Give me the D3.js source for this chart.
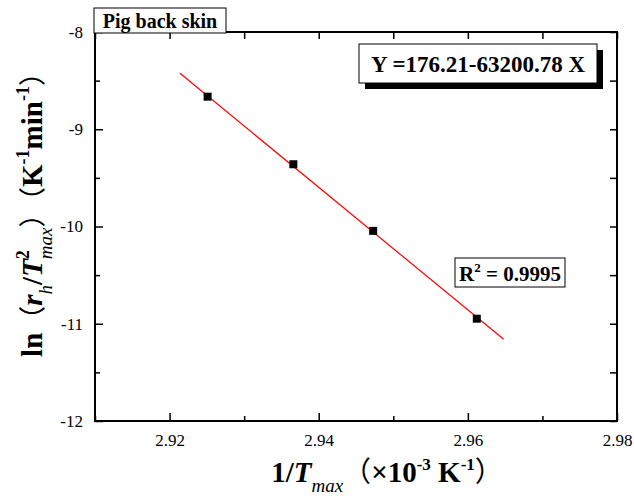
<!DOCTYPE html>
<html>
<head>
<meta charset="utf-8">
<script src="https://cdn.jsdelivr.net/npm/d3@7"></script>
<style>
  body { margin: 0; background: #fff; }
</style>
</head>
<body>
<div id="chart"></div>
<script>
// measured points (x in 10^-3 K^-1)
var xValues = [2.9251, 2.9366, 2.9473, 2.9612];
var yValues = [-8.665, -9.36, -10.045, -10.948];

// fitted line end points
var fitX = [2.9214, 2.9648];
var fitY = [-8.425, -11.16];

var xMajor = [2.92, 2.94, 2.96, 2.98];
var xMinor = [2.91, 2.93, 2.95, 2.97];
var yMajor = [-8, -9, -10, -11, -12];
var yMinor = [-8.5, -9.5, -10.5, -11.5];

var equationText = "Y =176.21-63200.78 X";
var r2Text = "0.9995";
var sampleText = "Pig back skin";

var FONT = "'Liberation Serif', 'Times New Roman', Times, serif";
var CJK = "'Noto Sans CJK SC', 'Liberation Serif', serif";

var width = 634, height = 496;
var margin = {top: 32, right: 17, bottom: 75, left: 95};

var x = d3.scaleLinear().domain([2.91, 2.98]).range([margin.left, width - margin.right]);
var y = d3.scaleLinear().domain([-12, -8]).range([height - margin.bottom, margin.top]);

var svg = d3.select("#chart").append("svg")
    .attr("width", width)
    .attr("height", height)
    .attr("font-family", FONT);

var plotW = x.range()[1] - x.range()[0],
    plotH = y.range()[0] - y.range()[1];

// axes: ticks pointing inward on all four sides
function styleAxis(g) {
    g.attr("font-family", FONT);
    g.select(".domain").remove();
    g.selectAll("line").attr("stroke", "#000").attr("stroke-width", 1.5);
    g.selectAll("text").attr("font-size", 17).attr("fill", "#000");
}

svg.append("g")
    .attr("transform", "translate(0," + y.range()[0] + ")")
    .call(d3.axisBottom(x).tickValues(xMajor).tickSize(-8).tickPadding(13).tickFormat(d3.format(".2f")))
    .call(styleAxis);
svg.append("g")
    .attr("transform", "translate(0," + y.range()[0] + ")")
    .call(d3.axisBottom(x).tickValues(xMinor).tickSize(-5).tickFormat(""))
    .call(styleAxis);
svg.append("g")
    .attr("transform", "translate(0," + y.range()[1] + ")")
    .call(d3.axisTop(x).tickValues(xMajor.concat(xMinor)).tickSize(-7).tickFormat(""))
    .call(styleAxis);

svg.append("g")
    .attr("transform", "translate(" + x.range()[0] + ",0)")
    .call(d3.axisLeft(y).tickValues(yMajor).tickSize(-8).tickPadding(12)
        .tickFormat(function(d) { return String(d); }))
    .call(styleAxis);
svg.append("g")
    .attr("transform", "translate(" + x.range()[0] + ",0)")
    .call(d3.axisLeft(y).tickValues(yMinor).tickSize(-5).tickFormat(""))
    .call(styleAxis);
svg.append("g")
    .attr("transform", "translate(" + x.range()[1] + ",0)")
    .call(d3.axisRight(y).tickValues(yMajor.concat(yMinor)).tickSize(-7).tickFormat(""))
    .call(styleAxis);

// frame
svg.append("rect")
    .attr("x", x.range()[0]).attr("y", y.range()[1])
    .attr("width", plotW).attr("height", plotH)
    .attr("fill", "none").attr("stroke", "#000").attr("stroke-width", 2);

// fit line
var fitData = fitX.map(function(d, i) { return [d, fitY[i]]; });
svg.append("path")
    .datum(fitData)
    .attr("fill", "none")
    .attr("stroke", "#ff0000")
    .attr("stroke-width", 1.2)
    .attr("d", d3.line().x(function(d) { return x(d[0]); }).y(function(d) { return y(d[1]); }));

// points
var pts = xValues.map(function(d, i) { return [d, yValues[i]]; });
svg.selectAll(".pt")
    .data(pts)
  .enter().append("rect")
    .attr("class", "pt")
    .attr("x", function(d) { return x(d[0]) - 4; })
    .attr("y", function(d) { return y(d[1]) - 4; })
    .attr("width", 8).attr("height", 8)
    .attr("fill", "#000");

// sample label box
svg.append("rect")
    .attr("x", 94).attr("y", 8).attr("width", 132).attr("height", 25)
    .attr("fill", "#fff").attr("stroke", "#000").attr("stroke-width", 1);
svg.append("text")
    .attr("x", 160).attr("y", 28)
    .attr("text-anchor", "middle")
    .attr("font-size", 20).attr("font-weight", "bold")
    .text(sampleText);

// equation box with shadow
svg.append("rect")
    .attr("x", 365).attr("y", 50).attr("width", 238).attr("height", 39)
    .attr("fill", "#000");
svg.append("rect")
    .attr("x", 359).attr("y", 44).attr("width", 238).attr("height", 39)
    .attr("fill", "#fff").attr("stroke", "#000").attr("stroke-width", 1);
svg.append("text")
    .attr("x", 478).attr("y", 72)
    .attr("text-anchor", "middle")
    .attr("font-size", 23).attr("font-weight", "bold")
    .text(equationText);

// R^2 box
svg.append("rect")
    .attr("x", 455).attr("y", 258).attr("width", 110).attr("height", 29)
    .attr("fill", "#fff").attr("stroke", "#000").attr("stroke-width", 1);
var r2 = svg.append("text")
    .attr("x", 510).attr("y", 281)
    .attr("text-anchor", "middle")
    .attr("font-size", 21).attr("font-weight", "bold");
r2.append("tspan").text("R");
r2.append("tspan").attr("font-size", 13).attr("dy", -9).text("2");
r2.append("tspan").attr("dy", 9).text(" = " + r2Text);

// x axis title
var xt = svg.append("text")
    .attr("x", 387).attr("y", 482)
    .attr("text-anchor", "middle")
    .attr("font-size", 29).attr("font-weight", "bold");
xt.append("tspan").text("1/");
xt.append("tspan").attr("font-style", "italic").text("T");
xt.append("tspan").attr("font-style", "italic").attr("font-weight", "normal").attr("font-size", 19).attr("dy", 10).text("max");
xt.append("tspan").attr("dy", -10).attr("font-family", CJK).attr("font-weight", "normal").attr("font-size", 28).text("\uff08");
xt.append("tspan").text("\u00d710");
xt.append("tspan").attr("font-size", 17).attr("dy", -12).text("-3");
xt.append("tspan").attr("dy", 12).text(" K");
xt.append("tspan").attr("font-size", 17).attr("dy", -12).text("-1");
xt.append("tspan").attr("dy", 12).attr("font-family", CJK).attr("font-weight", "normal").attr("font-size", 28).text("\uff09");

// y axis title
var yt = svg.append("text")
    .attr("transform", "translate(42,208) rotate(-90)")
    .attr("text-anchor", "middle")
    .attr("font-size", 29).attr("font-weight", "bold");
yt.append("tspan").text("ln");
yt.append("tspan").attr("font-family", CJK).attr("font-weight", "normal").attr("font-size", 27).text("\uff08");
yt.append("tspan").attr("font-style", "italic").text("r");
yt.append("tspan").attr("font-style", "italic").attr("font-weight", "normal").attr("font-size", 19).attr("dy", 10).text("h");
yt.append("tspan").attr("dy", -10).text("/");
yt.append("tspan").attr("font-style", "italic").text("T");
yt.append("tspan").attr("font-size", 18).attr("dy", -13).text("2");
yt.append("tspan").attr("font-style", "italic").attr("font-weight", "normal").attr("font-size", 19).attr("dy", 23).attr("dx", -9).text("max");
yt.append("tspan").attr("dy", -10).attr("font-family", CJK).attr("font-weight", "normal").attr("font-size", 27).text("\uff09\uff08");
yt.append("tspan").text("K");
yt.append("tspan").attr("font-size", 18).attr("dy", -13).text("-1");
yt.append("tspan").attr("dy", 13).text("min");
yt.append("tspan").attr("font-size", 18).attr("dy", -13).text("-1");
yt.append("tspan").attr("dy", 13).attr("font-family", CJK).attr("font-weight", "normal").attr("font-size", 27).text("\uff09");
</script>
</body>
</html>
